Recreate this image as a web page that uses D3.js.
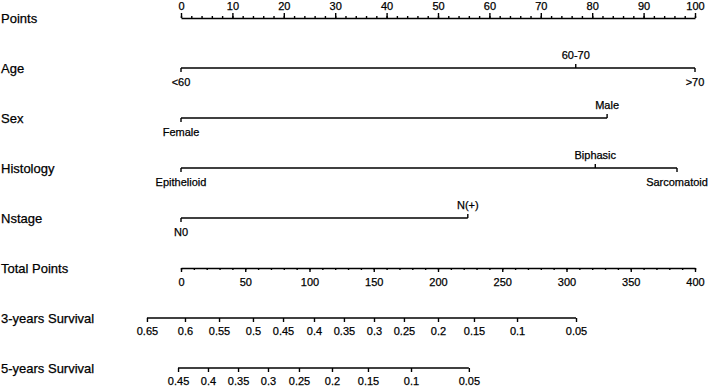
<!DOCTYPE html>
<html>
<head>
<meta charset="utf-8">
<script src="https://cdn.jsdelivr.net/npm/d3@7"></script>
<style>
  html, body { margin: 0; padding: 0; background: #fff; }
  svg { display: block; font-family: "Liberation Sans", Arial, sans-serif; }
  svg text { stroke: #000; stroke-width: 0.25px; }
</style>
</head>
<body>
<div id="chart"></div>
<script>
// Nomogram: points per predictor, total points, survival probabilities

const width = 709;
const height = 386;

// Row labels (top to bottom)
const rowLabels = ["Points", "Age", "Sex", "Histology", "Nstage",
    "Total Points", "3-years Survival", "5-years Survival"];

// Predictor levels and the points each level is worth
const ageLevels = ["<60", "60-70", ">70"];
const agePoints = [0, 76.8, 100];
const sexLevels = ["Female", "Male"];
const sexPoints = [0, 82.9];
const histLevels = ["Epithelioid", "Biphasic", "Sarcomatoid"];
const histPoints = [0, 80.6, 96.5];
const nLevels = ["N0", "N(+)"];
const nPoints = [0, 55.8];

// Survival scales: probability labels and where they sit on total points
const surv3Probs = ["0.65", "0.6", "0.55", "0.5", "0.45", "0.4", "0.35", "0.3", "0.25", "0.2", "0.15", "0.1", "0.05"];
const surv3Total = [-26.5, 3.1, 29.6, 56, 79.4, 103.5, 126.8, 150.2, 173.5, 200, 228, 261.5, 307.4];
const surv5Probs = ["0.45", "0.4", "0.35", "0.3", "0.25", "0.2", "0.15", "0.1", "0.05"];
const surv5Total = [-2.3, 21, 44.4, 67.7, 91.8, 117.5, 145.5, 179, 224];

const pointsMajor = d3.range(0, 101, 10);
const pointsMinor = d3.range(0, 101, 2);
const totalMajor = d3.range(0, 401, 50);
const totalMinor = d3.range(0, 401, 10);

const x0 = 181, x1 = 695;
const rowY = i => 18 + 50 * i;

const xP = d3.scaleLinear().domain([0, 100]).range([x0, x1]);
const xT = d3.scaleLinear().domain([0, 400]).range([x0, x1]);

const svg = d3.select("#chart").append("svg")
    .attr("width", width)
    .attr("height", height);

const ink = "#000";
const lineW = 1.4;

// row labels on the left
svg.selectAll(".rowlab")
    .data(rowLabels)
    .join("text")
    .attr("class", "rowlab")
    .attr("x", 1)
    .attr("y", (d, i) => rowY(i))
    .attr("dy", "0.35em")
    .attr("font-size", 13)
    .attr("fill", ink)
    .text(d => d);

function styleAxis(g) {
    g.attr("font-family", null).attr("font-size", null);
    g.selectAll("line").attr("stroke", ink).attr("stroke-width", lineW);
    g.selectAll("path").attr("stroke", ink).attr("stroke-width", lineW);
    g.selectAll("text").attr("fill", ink).attr("font-size", 11);
}

// Points axis (ticks and labels on top)
const pMinor = svg.append("g")
    .attr("transform", `translate(0,${rowY(0)})`)
    .call(d3.axisTop(xP).tickValues(pointsMinor).tickSize(2).tickSizeOuter(0).tickFormat(""));
styleAxis(pMinor);
const pMajor = svg.append("g")
    .attr("transform", `translate(0,${rowY(0)})`)
    .call(d3.axisTop(xP).tickValues(pointsMajor).tickSize(5).tickSizeOuter(0));
styleAxis(pMajor);
pMajor.select(".domain").remove();
pMajor.selectAll("text").attr("y", -12).attr("dy", "0.35em");

// Categorical predictor rows
function catRow(row, levels, pts, above) {
    const g = svg.append("g").attr("transform", `translate(0,${rowY(row)})`);
    g.append("line")
        .attr("x1", xP(d3.min(pts))).attr("x2", xP(d3.max(pts)))
        .attr("y1", 0).attr("y2", 0)
        .attr("stroke", ink).attr("stroke-width", lineW);
    const lv = levels.map((l, i) => ({ label: l, p: pts[i], up: above[i] }));
    g.selectAll(".tk").data(lv).join("line")
        .attr("class", "tk")
        .attr("x1", d => xP(d.p)).attr("x2", d => xP(d.p))
        .attr("y1", 0).attr("y2", d => d.up ? -4 : 4)
        .attr("stroke", ink).attr("stroke-width", lineW);
    g.selectAll(".lb").data(lv).join("text")
        .attr("class", "lb")
        .attr("x", d => xP(d.p))
        .attr("y", d => d.up ? -13 : 14)
        .attr("dy", "0.35em")
        .attr("text-anchor", "middle")
        .attr("font-size", 11)
        .attr("fill", ink)
        .text(d => d.label);
}

catRow(1, ageLevels, agePoints, [false, true, false]);
catRow(2, sexLevels, sexPoints, [false, true]);
catRow(3, histLevels, histPoints, [false, true, false]);
catRow(4, nLevels, nPoints, [false, true]);

// Total points axis (ticks and labels below)
const tMinor = svg.append("g")
    .attr("transform", `translate(0,${rowY(5)})`)
    .call(d3.axisBottom(xT).tickValues(totalMinor).tickSize(2).tickSizeOuter(0).tickFormat(""));
styleAxis(tMinor);
const tMajor = svg.append("g")
    .attr("transform", `translate(0,${rowY(5)})`)
    .call(d3.axisBottom(xT).tickValues(totalMajor).tickSize(4).tickSizeOuter(0));
styleAxis(tMajor);
tMajor.select(".domain").remove();
tMajor.selectAll("text").attr("y", 14).attr("dy", "0.35em");

// Survival axes
function survRow(row, probs, totals) {
    const g = svg.append("g")
        .attr("transform", `translate(0,${rowY(row)})`)
        .call(d3.axisBottom(xT).tickValues(totals).tickSize(4)
            .tickFormat((d, i) => probs[i]));
    styleAxis(g);
    g.select(".domain").remove();
    g.append("line")
        .attr("x1", xT(d3.min(totals))).attr("x2", xT(d3.max(totals)))
        .attr("y1", 0).attr("y2", 0)
        .attr("stroke", ink).attr("stroke-width", lineW);
    g.selectAll("text").attr("y", 13).attr("dy", "0.35em");
}

survRow(6, surv3Probs, surv3Total);
survRow(7, surv5Probs, surv5Total);
</script>
</body>
</html>
